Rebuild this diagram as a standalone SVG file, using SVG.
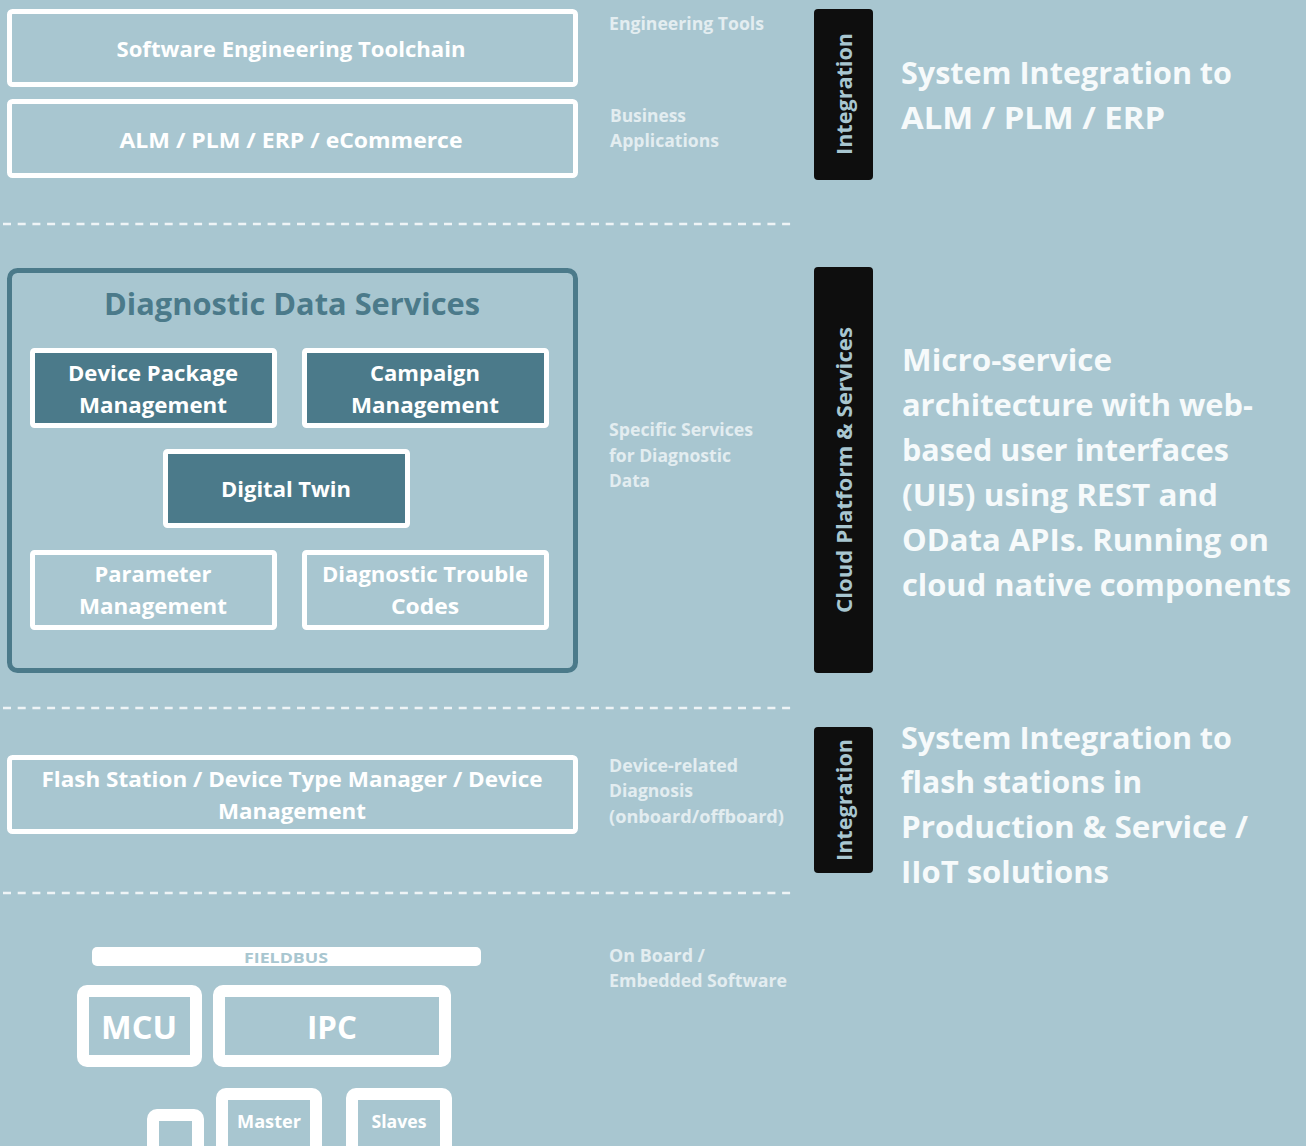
<svg xmlns="http://www.w3.org/2000/svg" width="1306" height="1146" viewBox="0 0 1306 1146">
<style>
text{font-family:"Open Sans","Noto Sans","Liberation Sans",sans-serif;font-weight:bold}
.box{fill:none;stroke:#ffffff;stroke-width:5}
.dbox{fill:#4b7a8a;stroke:#ffffff;stroke-width:5}
.bt{fill:#ffffff;font-size:22px;text-anchor:middle}
.side{fill:#e3edf0;font-size:17px}
.big{fill:#f6fafb;font-size:31px}
.bar{fill:#0e0e0e}
.vt{fill:#a8c6d0;font-size:22px;text-anchor:middle}
.dash{stroke:#eef4f6;stroke-width:2.5;stroke-dasharray:8 6.7;fill:none}
.hw{fill:none;stroke:#ffffff;stroke-width:12}
</style>
<rect x="0" y="0" width="1306" height="1146" fill="#a8c6d0"/>
<g id="separators">
<line class="dash" x1="3" y1="224" x2="792" y2="224"/>
<line class="dash" x1="3" y1="708" x2="792" y2="708"/>
<line class="dash" x1="3" y1="893" x2="792" y2="893"/>
</g>
<g id="set-toolchain">
<rect class="box" x="9.5" y="11.5" width="566" height="73" rx="3"/>
<text class="bt" x="291" y="57" textLength="349" lengthAdjust="spacingAndGlyphs">Software Engineering Toolchain</text>
</g>
<g id="alm">
<rect class="box" x="9.5" y="101.5" width="566" height="74" rx="3"/>
<text class="bt" x="291" y="148" textLength="343" lengthAdjust="spacingAndGlyphs">ALM / PLM / ERP / eCommerce</text>
</g>
<g id="label-top">
<text class="side" x="609" y="30" textLength="155" lengthAdjust="spacingAndGlyphs">Engineering Tools</text>
<text class="side" x="610" y="122" textLength="76" lengthAdjust="spacingAndGlyphs">Business</text>
<text class="side" x="610" y="147" textLength="109" lengthAdjust="spacingAndGlyphs">Applications</text>
</g>
<g id="integration-top">
<rect class="bar" x="814" y="9" width="59" height="171" rx="4"/>
<text class="vt" transform="translate(852,94) rotate(-90)" x="0" y="0" textLength="122" lengthAdjust="spacingAndGlyphs">Integration</text>
</g>
<g id="desc-top">
<text class="big" x="901" y="84" textLength="331" lengthAdjust="spacingAndGlyphs">System Integration to</text>
<text class="big" x="901" y="129" textLength="264" lengthAdjust="spacingAndGlyphs">ALM / PLM / ERP</text>
</g>
<g id="dds">
<rect x="9.5" y="270.5" width="566" height="400" rx="8" fill="none" stroke="#4b7a8a" stroke-width="5"/>
<text x="292" y="315" font-size="30" fill="#4b7a8a" text-anchor="middle" textLength="376" lengthAdjust="spacingAndGlyphs">Diagnostic Data Services</text>
</g>
<g id="device-package">
<rect class="dbox" x="32.5" y="350.5" width="242" height="75" rx="2"/>
<text class="bt" x="153" y="381" textLength="170" lengthAdjust="spacingAndGlyphs">Device Package</text>
<text class="bt" x="153" y="413" textLength="148" lengthAdjust="spacingAndGlyphs">Management</text>
</g>
<g id="campaign">
<rect class="dbox" x="304.5" y="350.5" width="242" height="75" rx="2"/>
<text class="bt" x="425" y="381" textLength="110" lengthAdjust="spacingAndGlyphs">Campaign</text>
<text class="bt" x="425" y="413" textLength="148" lengthAdjust="spacingAndGlyphs">Management</text>
</g>
<g id="digital-twin">
<rect class="dbox" x="165.5" y="451.5" width="242" height="74" rx="2"/>
<text class="bt" x="286" y="497" textLength="130" lengthAdjust="spacingAndGlyphs">Digital Twin</text>
</g>
<g id="parameter">
<rect class="box" x="32.5" y="552.5" width="242" height="75" rx="2"/>
<text class="bt" x="153" y="582" textLength="117" lengthAdjust="spacingAndGlyphs">Parameter</text>
<text class="bt" x="153" y="614" textLength="148" lengthAdjust="spacingAndGlyphs">Management</text>
</g>
<g id="dtc">
<rect class="box" x="304.5" y="552.5" width="242" height="75" rx="2"/>
<text class="bt" x="425" y="582" textLength="206" lengthAdjust="spacingAndGlyphs">Diagnostic Trouble</text>
<text class="bt" x="425" y="614" textLength="68" lengthAdjust="spacingAndGlyphs">Codes</text>
</g>
<g id="label-mid">
<text class="side" x="609" y="436" textLength="144" lengthAdjust="spacingAndGlyphs">Specific Services</text>
<text class="side" x="609" y="462" textLength="122" lengthAdjust="spacingAndGlyphs">for Diagnostic</text>
<text class="side" x="609" y="487" textLength="41" lengthAdjust="spacingAndGlyphs">Data</text>
</g>
<g id="cloud">
<rect class="bar" x="814" y="267" width="59" height="406" rx="4"/>
<text class="vt" transform="translate(852,470) rotate(-90)" x="0" y="0" textLength="286" lengthAdjust="spacingAndGlyphs">Cloud Platform &amp; Services</text>
</g>
<g id="desc-mid">
<text class="big" x="902" y="371" textLength="210" lengthAdjust="spacingAndGlyphs">Micro-service</text>
<text class="big" x="902" y="416" textLength="351" lengthAdjust="spacingAndGlyphs">architecture with web-</text>
<text class="big" x="902" y="461" textLength="327" lengthAdjust="spacingAndGlyphs">based user interfaces</text>
<text class="big" x="902" y="506" textLength="316" lengthAdjust="spacingAndGlyphs">(UI5) using REST and</text>
<text class="big" x="902" y="551" textLength="367" lengthAdjust="spacingAndGlyphs">OData APIs. Running on</text>
<text class="big" x="902" y="596" textLength="389" lengthAdjust="spacingAndGlyphs">cloud native components</text>
</g>
<g id="flash">
<rect class="box" x="9.5" y="757.5" width="566" height="74" rx="3"/>
<text class="bt" x="292" y="787" textLength="501" lengthAdjust="spacingAndGlyphs">Flash Station / Device Type Manager / Device</text>
<text class="bt" x="292" y="819" textLength="148" lengthAdjust="spacingAndGlyphs">Management</text>
</g>
<g id="label-flash">
<text class="side" x="609" y="772" textLength="129" lengthAdjust="spacingAndGlyphs">Device-related</text>
<text class="side" x="609" y="797" textLength="84" lengthAdjust="spacingAndGlyphs">Diagnosis</text>
<text class="side" x="609" y="823" textLength="175" lengthAdjust="spacingAndGlyphs">(onboard/offboard)</text>
</g>
<g id="integration-bottom">
<rect class="bar" x="814" y="727" width="59" height="146" rx="4"/>
<text class="vt" transform="translate(852,800) rotate(-90)" x="0" y="0" textLength="122" lengthAdjust="spacingAndGlyphs">Integration</text>
</g>
<g id="desc-bottom">
<text class="big" x="901" y="749" textLength="331" lengthAdjust="spacingAndGlyphs">System Integration to</text>
<text class="big" x="901" y="793" textLength="241" lengthAdjust="spacingAndGlyphs">flash stations in</text>
<text class="big" x="901" y="838" textLength="347" lengthAdjust="spacingAndGlyphs">Production &amp; Service /</text>
<text class="big" x="901" y="883" textLength="208" lengthAdjust="spacingAndGlyphs">IIoT solutions</text>
</g>
<g id="fieldbus">
<rect x="92" y="947" width="389" height="19" rx="5" fill="#ffffff"/>
<text x="286" y="963" font-size="15" fill="#a8c6d0" text-anchor="middle" textLength="84" lengthAdjust="spacingAndGlyphs">FIELDBUS</text>
</g>
<g id="mcu">
<rect class="hw" x="83" y="991" width="113" height="70" rx="4"/>
<text x="139" y="1039" font-size="32" fill="#ffffff" text-anchor="middle" textLength="76" lengthAdjust="spacingAndGlyphs">MCU</text>
</g>
<g id="ipc">
<rect class="hw" x="219" y="991" width="226" height="70" rx="4"/>
<text x="332" y="1039" font-size="32" fill="#ffffff" text-anchor="middle" textLength="50" lengthAdjust="spacingAndGlyphs">IPC</text>
</g>
<g id="small">
<rect class="hw" x="153" y="1115" width="45" height="60" rx="4"/>
</g>
<g id="master">
<rect class="hw" x="222" y="1094" width="94" height="80" rx="4"/>
<text x="269" y="1128" font-size="18" fill="#ffffff" text-anchor="middle" textLength="64" lengthAdjust="spacingAndGlyphs">Master</text>
</g>
<g id="slaves">
<rect class="hw" x="352" y="1094" width="94" height="80" rx="4"/>
<text x="399" y="1128" font-size="18" fill="#ffffff" text-anchor="middle" textLength="55" lengthAdjust="spacingAndGlyphs">Slaves</text>
</g>
<g id="label-bottom">
<text class="side" x="609" y="962" textLength="96" lengthAdjust="spacingAndGlyphs">On Board /</text>
<text class="side" x="609" y="987" textLength="178" lengthAdjust="spacingAndGlyphs">Embedded Software</text>
</g>
<g id="connectors"></g>
</svg>
